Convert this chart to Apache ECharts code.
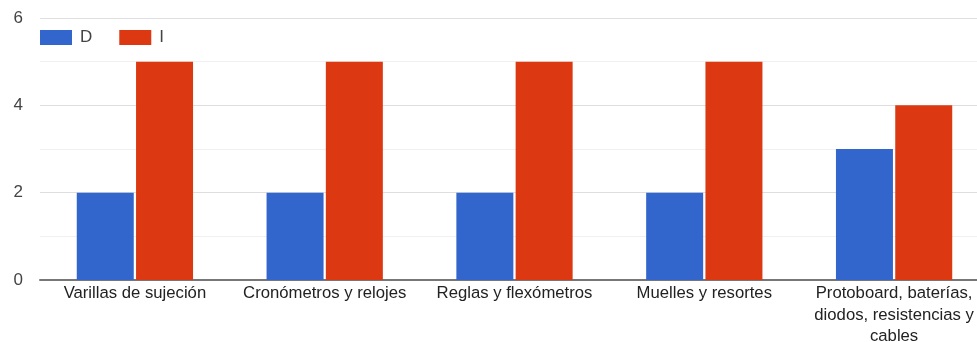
<!DOCTYPE html>
<html>
<head>
<meta charset="utf-8">
<script src="https://cdn.jsdelivr.net/npm/echarts@6/dist/echarts.min.js"></script>
<style>
  html, body { margin: 0; padding: 0; background: #fff; }
  #chart { width: 977px; height: 342px; }
</style>
</head>
<body>
<div id="chart"></div>
<script>
// datos
const categories = [
  'Varillas de sujeción',
  'Cronómetros y relojes',
  'Reglas y flexómetros',
  'Muelles y resortes',
  'Protoboard, baterías,\ndiodos, resistencias y\ncables'
];
const serieD = [2, 2, 2, 2, 3];
const serieI = [5, 5, 5, 5, 4];

const chart = echarts.init(document.getElementById('chart'));
const option = {
  animation: false,
  textStyle: { fontFamily: 'Liberation Sans, Arial, sans-serif' },
  color: ['#3366CC', '#DC3912'],
  legend: {
    left: 35,
    top: 24,
    itemWidth: 32,
    itemHeight: 15,
    itemGap: 27,
    icon: 'rect',
    textStyle: { color: '#444', fontSize: 17, padding: [0, 0, 0, 3] },
    data: ['D', 'I']
  },
  grid: { left: 40, right: -12, top: 18, bottom: 62, containLabel: false, outerBoundsMode: 'none' },
  xAxis: {
    type: 'category',
    data: categories,
    axisLine: { lineStyle: { color: '#777', width: 2 } },
    axisTick: { show: false },
    axisLabel: {
      interval: 0,
      color: '#222',
      fontSize: 16.7,
      lineHeight: 21.5,
      margin: 3
    }
  },
  yAxis: {
    type: 'value',
    min: 0,
    max: 6,
    interval: 2,
    axisLabel: { color: '#444', fontSize: 17, margin: 17 },
    splitLine: { lineStyle: { color: '#dedede', width: 1 } },
    minorTick: { show: false, splitNumber: 2 },
    minorSplitLine: { show: true, lineStyle: { color: '#f0f0f0', width: 1 } }
  },
  series: [
    { name: 'D', type: 'bar', data: serieD, barWidth: 57, barGap: '4%' },
    { name: 'I', type: 'bar', data: serieI, barWidth: 57, barGap: '4%' }
  ]
};
chart.setOption(option);
window.addEventListener('resize', function () { chart.resize(); });
</script>
</body>
</html>
